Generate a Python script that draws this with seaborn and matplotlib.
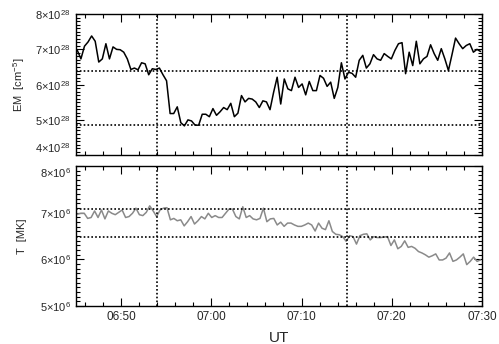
import numpy as np
import pandas as pd
import matplotlib
matplotlib.use("Agg")
import matplotlib.pyplot as plt
import matplotlib.dates as mdates
from matplotlib.ticker import MultipleLocator, FuncFormatter
import seaborn as sns

# ── Data ─────────────────────────────────────────────────────────────────────
T_START = "2000-01-01 06:45:10"
T_END   = "2000-01-01 07:29:50"

# emission measure, units of 1e28 cm^-5
em_vals = [6.97, 6.73, 7.09, 7.21, 7.38, 7.23, 6.64, 6.73, 7.16, 6.73, 7.07, 7.00,
           6.99, 6.92, 6.73, 6.43, 6.47, 6.42, 6.62, 6.59, 6.28, 6.45, 6.43, 6.47,
           6.28, 6.11, 5.18, 5.18, 5.37,
           4.92, 4.83, 5.00, 4.97, 4.85, 4.85, 5.16, 5.16, 5.09, 5.32, 5.13, 5.23,
           5.35, 5.29, 5.47, 5.09, 5.19, 5.69, 5.51, 5.61, 5.59, 5.51, 5.35, 5.54,
           5.51, 5.29, 5.78, 6.21,
           5.45, 6.16, 5.88, 5.83, 6.21, 5.92, 6.02, 5.71, 6.09, 5.83, 5.83, 6.26,
           6.18, 5.95, 6.07, 5.61, 5.92, 6.62, 6.16, 6.35, 6.32, 6.21, 6.69, 6.83,
           6.47, 6.59, 6.85, 6.73,
           6.69, 6.88, 6.80, 6.73, 6.97, 7.16, 7.19, 6.31, 6.92, 6.54, 7.23, 6.59,
           6.73, 6.80, 7.13, 6.88, 6.69, 7.02, 6.73, 6.40, 6.85, 7.32, 7.16, 7.02,
           7.11, 7.16, 6.92, 7.00, 6.94]

# temperature, units of 1e6 K
t_vals = [6.97, 6.99, 6.99, 6.88, 6.90, 7.04, 6.90, 7.06, 6.87, 7.04, 6.99, 6.96,
          7.01, 7.06, 6.90, 6.92, 6.99, 7.10, 6.96, 6.94, 7.01, 7.15, 7.04, 6.92,
          7.06, 7.10, 7.11, 6.85, 6.88, 6.83, 6.85, 6.72, 6.81, 6.92, 6.76, 6.83,
          6.92, 6.87, 6.99, 6.90, 6.94, 6.90, 6.90, 6.99, 7.08, 7.08, 6.92, 6.87,
          7.13, 6.90, 6.94, 6.87, 6.85, 6.88, 7.10, 6.81,
          6.87, 6.88, 6.74, 6.80, 6.71, 6.78, 6.78, 6.74, 6.71, 6.71, 6.74, 6.78,
          6.74, 6.61, 6.78, 6.67, 6.64, 6.83, 6.60, 6.54, 6.53, 6.49, 6.39, 6.51,
          6.49, 6.33, 6.51, 6.54, 6.55, 6.42, 6.49, 6.47, 6.47, 6.48, 6.49, 6.30,
          6.42, 6.23, 6.28, 6.40, 6.26, 6.28, 6.24, 6.17, 6.14, 6.10, 6.05, 6.08,
          6.12, 5.99, 5.99, 6.03, 6.14, 5.96, 5.99, 6.05, 6.12, 5.89, 5.96, 6.05,
          5.96, 5.99]

VLINES   = ["2000-01-01 06:54:00", "2000-01-01 07:15:00"]
EM_HLINE = [6.40, 4.86]
T_HLINE  = [7.08, 6.49]

em = pd.DataFrame({"time": pd.date_range(T_START, T_END, periods=len(em_vals)),
                   "em": em_vals})
tt = pd.DataFrame({"time": pd.date_range(T_START, T_END, periods=len(t_vals)),
                   "t": t_vals})

# ── Style ────────────────────────────────────────────────────────────────────
sns.set_style("ticks")
plt.rcParams["font.family"] = ["Liberation Sans", "DejaVu Sans"]
plt.rcParams["mathtext.fontset"] = "custom"
plt.rcParams["mathtext.rm"] = "Liberation Sans"
plt.rcParams["mathtext.it"] = "Liberation Sans:italic"
plt.rcParams["mathtext.bf"] = "Liberation Sans:bold"

fig = plt.figure(figsize=(4.99, 3.44), dpi=100)
ax1 = fig.add_axes([0.152, 0.549, 0.814, 0.410])
ax2 = fig.add_axes([0.152, 0.110, 0.814, 0.407])

sns.lineplot(data=em, x="time", y="em", ax=ax1, color="black", lw=1.1)
sns.lineplot(data=tt, x="time", y="t", ax=ax2, color="#8a8a8a", lw=1.1)

x0, x1 = pd.Timestamp("2000-01-01 06:45"), pd.Timestamp("2000-01-01 07:30")

def sci(exp):
    return FuncFormatter(lambda v, p: rf"{v:.0f}$\times$10$^{{{exp}}}$")

for ax, ylim, hl, exp in [(ax1, (4, 8), EM_HLINE, 28), (ax2, (5, 8), T_HLINE, 6)]:
    for v in VLINES:
        ax.axvline(pd.Timestamp(v), color="black", ls=(0, (1, 1.3)), lw=1.2)
    for h in hl:
        ax.axhline(h, color="black", ls=(0, (1, 1.3)), lw=1.2)
    ax.set_xlim(x0, x1)
    ax.set_ylim(*ylim)
    ax.xaxis.set_major_locator(mdates.MinuteLocator(byminute=range(0, 60, 10)))
    ax.xaxis.set_minor_locator(mdates.MinuteLocator(byminute=range(0, 60, 2)))
    ax.xaxis.set_major_formatter(mdates.DateFormatter("%H:%M"))
    ax.yaxis.set_major_locator(MultipleLocator(1))
    ax.yaxis.set_minor_locator(MultipleLocator(0.1))
    ax.yaxis.set_major_formatter(sci(exp))
    ax.tick_params(which="both", direction="in", top=True, right=True,
                   labelsize=8, color="black", width=0.8)
    ax.tick_params(axis="x", labelsize=8.5)
    ax.tick_params(which="major", length=6)
    ax.tick_params(which="minor", length=3)
    for s in ax.spines.values():
        s.set_linewidth(1.0)
        s.set_color("black")

ax1.tick_params(labelbottom=False)
ax1.set_xlabel("")
ax1.set_ylabel(r"EM  [cm$^{-5}$]", fontsize=8, labelpad=6)
ax2.set_ylabel("T  [MK]", fontsize=8, labelpad=6)
ax2.set_xlabel("UT", fontsize=11, labelpad=6)
ax1.yaxis.set_label_coords(-0.12, 0.5)
ax2.yaxis.set_label_coords(-0.12, 0.5)

# the two labels that meet between the panels sit inside their own axes
fig.canvas.draw()
for t in ax2.yaxis.get_major_ticks():
    if abs(t.get_loc() - 8) < 1e-6:
        t.label1.set_va("top")
for t in ax1.yaxis.get_major_ticks():
    if abs(t.get_loc() - 4) < 1e-6:
        t.label1.set_va("bottom")

fig.savefig("out.png", dpi=100, facecolor="white")
